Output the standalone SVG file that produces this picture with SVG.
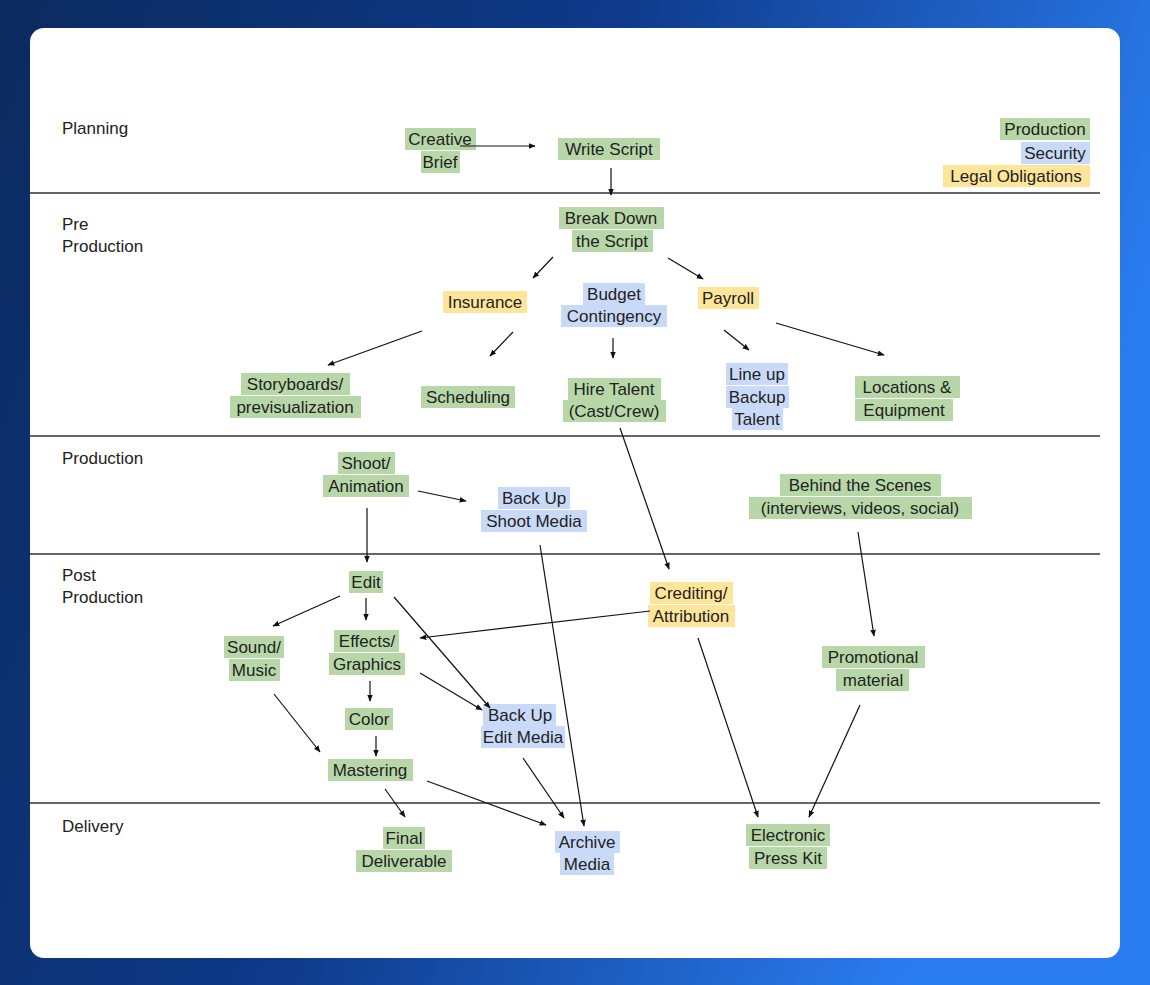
<svg xmlns="http://www.w3.org/2000/svg" width="1150" height="985" viewBox="0 0 1150 985">
<defs>
<linearGradient id="bg" x1="0" y1="0" x2="1" y2="0.3"><stop offset="0" stop-color="#0b2a5e"/><stop offset="0.5" stop-color="#0f3a8a"/><stop offset="1" stop-color="#2a7df0"/></linearGradient>
<marker id="ah" viewBox="0 0 10 10" refX="9" refY="5" markerWidth="7" markerHeight="7" orient="auto-start-reverse" markerUnits="userSpaceOnUse"><path d="M0,1 L10,5 L0,9 z" fill="#111"/></marker>
<style>
text{font-family:"Liberation Sans",Arial,sans-serif;font-size:17px;fill:#222;text-anchor:middle;dominant-baseline:central}
.lbl{text-anchor:start}
.g{fill:#b7d7a8}.b{fill:#c9daf8}.y{fill:#ffe599}
#connectors line{stroke:#111;stroke-width:1.2;marker-end:url(#ah)}
.div{stroke:#333;stroke-width:1.3}
</style>
</defs>
<rect width="1150" height="985" fill="url(#bg)"/>
<rect x="30" y="28" width="1090" height="930" rx="14" fill="#fff"/>
<g id="dividers">
<line class="div" x1="30" y1="193" x2="1100" y2="193"/>
<line class="div" x1="30" y1="436" x2="1100" y2="436"/>
<line class="div" x1="30" y1="554" x2="1100" y2="554"/>
<line class="div" x1="30" y1="803" x2="1100" y2="803"/>
</g>
<g id="lanes">
<text class="lbl" x="62" y="128">Planning</text>
<text class="lbl" x="62" y="224">Pre</text><text class="lbl" x="62" y="246">Production</text>
<text class="lbl" x="62" y="458">Production</text>
<text class="lbl" x="62" y="575">Post</text><text class="lbl" x="62" y="597">Production</text>
<text class="lbl" x="62" y="826">Delivery</text>
</g>
<g id="legend">
<rect class="g" x="1000" y="118" width="90" height="22"/><text x="1045" y="129">Production</text>
<rect class="b" x="1021" y="142" width="69" height="22"/><text x="1055" y="153">Security</text>
<rect class="y" x="943" y="165" width="147" height="22"/><text x="1016" y="176">Legal Obligations</text>
</g>
<g id="creative-brief"><rect class="g" x="405" y="128" width="71" height="22"/><rect class="g" x="421" y="151" width="39" height="22"/><text x="440" y="139">Creative</text><text x="440" y="162">Brief</text></g>
<g id="write-script"><rect class="g" x="558" y="138" width="102" height="22"/><text x="609" y="149">Write Script</text></g>
<g id="break-down"><rect class="g" x="559" y="207" width="105" height="22"/><rect class="g" x="572" y="230" width="81" height="22"/><text x="611" y="218">Break Down</text><text x="612" y="241">the Script</text></g>
<g id="insurance"><rect class="y" x="443" y="291" width="84" height="22"/><text x="485" y="302">Insurance</text></g>
<g id="budget"><rect class="b" x="583" y="283" width="62" height="22"/><rect class="b" x="561" y="305" width="106" height="22"/><text x="614" y="294">Budget</text><text x="614" y="316">Contingency</text></g>
<g id="payroll"><rect class="y" x="698" y="287" width="61" height="22"/><text x="728" y="298">Payroll</text></g>
<g id="storyboards"><rect class="g" x="241" y="373" width="109" height="22"/><rect class="g" x="230" y="396" width="131" height="22"/><text x="295" y="384">Storyboards/</text><text x="295" y="407">previsualization</text></g>
<g id="scheduling"><rect class="g" x="421" y="386" width="94" height="22"/><text x="468" y="397">Scheduling</text></g>
<g id="hire-talent"><rect class="g" x="568" y="378" width="93" height="22"/><rect class="g" x="563" y="400" width="103" height="22"/><text x="614" y="389">Hire Talent</text><text x="614" y="411">(Cast/Crew)</text></g>
<g id="backup-talent"><rect class="b" x="726" y="363" width="62" height="22"/><rect class="b" x="726" y="386" width="63" height="22"/><rect class="b" x="732" y="408" width="51" height="22"/><text x="757" y="374">Line up</text><text x="757" y="397">Backup</text><text x="757" y="419">Talent</text></g>
<g id="locations"><rect class="g" x="855" y="376" width="105" height="22"/><rect class="g" x="855" y="399" width="98" height="22"/><text x="907" y="387">Locations  &amp;</text><text x="904" y="410">Equipment</text></g>
<g id="shoot"><rect class="g" x="338" y="452" width="57" height="22"/><rect class="g" x="323" y="475" width="86" height="22"/><text x="366" y="463">Shoot/</text><text x="366" y="486">Animation</text></g>
<g id="backup-shoot"><rect class="b" x="498" y="487" width="72" height="22"/><rect class="b" x="481" y="510" width="106" height="22"/><text x="534" y="498">Back Up</text><text x="534" y="521">Shoot Media</text></g>
<g id="bts"><rect class="g" x="780" y="474" width="161" height="22"/><rect class="g" x="749" y="497" width="223" height="22"/><text x="860" y="485">Behind the Scenes</text><text x="860" y="508">(interviews, videos, social)</text></g>
<g id="edit"><rect class="g" x="349" y="571" width="34" height="22"/><text x="366" y="582">Edit</text></g>
<g id="crediting"><rect class="y" x="650" y="582" width="83" height="22"/><rect class="y" x="648" y="605" width="87" height="22"/><text x="691" y="593">Crediting/</text><text x="691" y="616">Attribution</text></g>
<g id="sound"><rect class="g" x="224" y="636" width="60" height="22"/><rect class="g" x="229" y="659" width="51" height="22"/><text x="254" y="647">Sound/</text><text x="254" y="670">Music</text></g>
<g id="effects"><rect class="g" x="334" y="630" width="65" height="22"/><rect class="g" x="329" y="653" width="76" height="22"/><text x="367" y="641">Effects/</text><text x="367" y="664">Graphics</text></g>
<g id="promo"><rect class="g" x="822" y="646" width="103" height="22"/><rect class="g" x="836" y="669" width="73" height="22"/><text x="873" y="657">Promotional</text><text x="873" y="680">material</text></g>
<g id="color"><rect class="g" x="345" y="708" width="48" height="22"/><text x="369" y="719">Color</text></g>
<g id="backup-edit"><rect class="b" x="483" y="704" width="73" height="22"/><rect class="b" x="481" y="726" width="84" height="22"/><text x="520" y="715">Back Up</text><text x="523" y="737">Edit Media</text></g>
<g id="mastering"><rect class="g" x="328" y="759" width="85" height="22"/><text x="370" y="770">Mastering</text></g>
<g id="final"><rect class="g" x="383" y="827" width="42" height="22"/><rect class="g" x="356" y="850" width="96" height="22"/><text x="404" y="838">Final</text><text x="404" y="861">Deliverable</text></g>
<g id="archive"><rect class="b" x="555" y="831" width="65" height="22"/><rect class="b" x="560" y="853" width="54" height="22"/><text x="587" y="842">Archive</text><text x="587" y="864">Media</text></g>
<g id="epk"><rect class="g" x="746" y="824" width="84" height="22"/><rect class="g" x="749" y="847" width="78" height="22"/><text x="788" y="835">Electronic</text><text x="788" y="858">Press Kit</text></g>
<g id="connectors">
<line x1="460" y1="146" x2="535" y2="146"/>
<line x1="611" y1="168" x2="611" y2="195"/>
<line x1="553" y1="257" x2="533" y2="278"/>
<line x1="668" y1="258" x2="703" y2="279"/>
<line x1="422" y1="331" x2="328" y2="365"/>
<line x1="513" y1="332" x2="490" y2="356"/>
<line x1="613" y1="338" x2="613" y2="358"/>
<line x1="724" y1="330" x2="749" y2="350"/>
<line x1="776" y1="323" x2="884" y2="355"/>
<line x1="620" y1="428" x2="669" y2="569"/>
<line x1="418" y1="491" x2="466" y2="501"/>
<line x1="367" y1="508" x2="367" y2="562"/>
<line x1="540" y1="545" x2="584" y2="826"/>
<line x1="858" y1="532" x2="874" y2="636"/>
<line x1="366" y1="598" x2="366" y2="620"/>
<line x1="340" y1="596" x2="273" y2="626"/>
<line x1="394" y1="597" x2="490" y2="708"/>
<line x1="650" y1="611" x2="420" y2="638"/>
<line x1="370" y1="681" x2="370" y2="701"/>
<line x1="420" y1="673" x2="482" y2="710"/>
<line x1="376" y1="736" x2="376" y2="756"/>
<line x1="274" y1="694" x2="320" y2="752"/>
<line x1="698" y1="638" x2="758" y2="817"/>
<line x1="860" y1="705" x2="809" y2="817"/>
<line x1="385" y1="789" x2="405" y2="817"/>
<line x1="427" y1="781" x2="546" y2="825"/>
<line x1="523" y1="758" x2="564" y2="818"/>
</g>
</svg>
